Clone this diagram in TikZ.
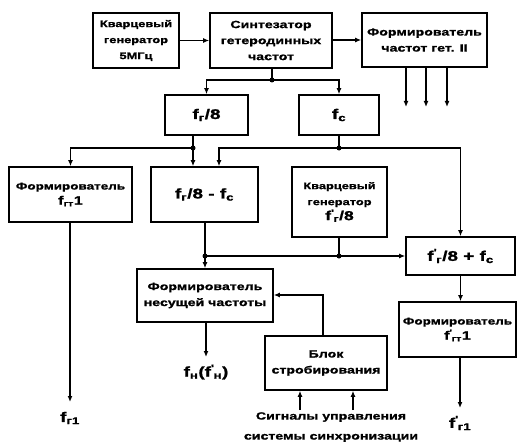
\documentclass[tikz,border=0pt]{standalone}
\usepackage{fontspec}
\setmainfont{Liberation Sans}
\newfontfamily\wf[FakeStretch=1.35, FakeBold=1.2]{Liberation Sans}
\usetikzlibrary{arrows.meta}
\newcommand\fps[2]{f\textsuperscript{'}\kern-1pt\textsubscript{#2}}
\begin{document}
\begin{tikzpicture}[x=1pt,y=-1pt,
 box/.style={draw, line width=1.6pt, align=center, inner sep=1pt, font=\wf\bfseries\fontsize{10.5}{16}\selectfont},
 small/.style={font=\wf\bfseries\fontsize{9.5}{16}\selectfont},
 mid/.style={font=\wf\bfseries\fontsize{10}{16}\selectfont},
 big/.style={font=\wf\bfseries\fontsize{14}{16}\selectfont},
 ln/.style={line width=1.6pt},
 ar/.style={line width=1.6pt, -{Latex[length=6pt,width=5pt]}},
 dot/.style={circle, fill, inner sep=0pt, minimum size=5pt},
 lbl/.style={font=\wf\bfseries\fontsize{14}{16}\selectfont, inner sep=0pt},
]
\useasboundingbox (0,0) rectangle (517,444);
% boxes
\node[box, small, minimum width=86pt, minimum height=55pt] (q5) at (136,40.5) {Кварцевый\\генератор\\5МГц};
\node[box, minimum width=122pt, minimum height=55pt] (syn) at (271,40.5) {Синтезатор\\гетеродинных\\частот};
\node[box, minimum width=125pt, minimum height=54pt] (fgt) at (424.5,40) {Формирователь\\частот гет. II};
\node[box, big, minimum width=83pt, minimum height=40pt] (fg8) at (206.5,115) {f\textsubscript{г}/8};
\node[box, big, minimum width=80pt, minimum height=40pt] (fc) at (339,115) {f\textsubscript{с}};
\node[box, mid, minimum width=123pt, minimum height=55pt] (fgp) at (70.5,194.5) {Формирователь\\[-1pt]{\fontsize{12}{14}\selectfont f\textsubscript{гт}1}};
\node[box, big, minimum width=107pt, minimum height=55pt] (fminus) at (204.5,194.5) {f\textsubscript{г}/8 - f\textsubscript{с}};
\node[box, small, minimum width=95pt, minimum height=70pt] (q2) at (339.5,202) {Кварцевый\\генератор\\[-1pt]{\fontsize{13}{14}\selectfont \fps{'}{г}/8}};
\node[box, big, minimum width=109pt, minimum height=38pt] (fplus) at (460.5,256) {\fps{'}{г}/8 + f\textsubscript{с}};
\node[box, minimum width=136pt, minimum height=53pt] (fnes) at (205,295.5) {Формирователь\\несущей частоты};
\node[box, mid, minimum width=117pt, minimum height=55pt] (fgp2) at (457.5,329.5) {Формирователь\\[-1pt]{\fontsize{12}{14}\selectfont \fps{'}{гт}1}};
\node[box, minimum width=122pt, minimum height=54pt] (strob) at (326,363) {Блок\\стробирования};
% labels
\node[lbl] (og1) at (70,418) {f\textsubscript{г1}};
\node[lbl] (og2) at (460,423) {\fps{'}{г1}};
\node[lbl] (on) at (206,372) {f\textsubscript{н}(\fps{'}{н})};
\node[font=\wf\bfseries\fontsize{10.5}{20}\selectfont, align=center, inner sep=0pt] (sig) at (331,427) {Сигналы управления\\системы синхронизации};
% coordinates
\coordinate (j1) at (272,80);
\coordinate (j2) at (193,148);
\coordinate (j3) at (339,148);
\coordinate (j4) at (339,256);
\coordinate (j5) at (205,256);
\coordinate (xa) at (219,0);
\coordinate (sa) at (323,295);
\coordinate (o1) at (70,402);
\coordinate (o2) at (460,408);
\coordinate (o3) at (206,357);
\coordinate (i1) at (300,410);
\coordinate (i2) at (353,410);
\coordinate (g1) at (406,107);
\coordinate (g2) at (426,107);
\coordinate (g3) at (447,107);
% connectors
\draw[ar] (q5.east) -- (q5.east -| syn.west);
\draw[ar] (syn.east |- fgt.west) -- (fgt.west);
\draw[ln] (syn.south -| j1) -- (j1);
\draw[ar] (j1) -| (fg8.north);
\draw[ar] (j1) -| (fc.north);
\draw[ln] (j2 |- fg8.south) -- (j2);
\draw[ar] (j2) -| (fgp.north);
\draw[ar] (j2) -- (j2 |- fminus.north);
\draw[ln] (fc.south) -- (j3);
\draw[ar] (j3) -| (xa |- fminus.north);
\draw[ar] (j3) -| (fplus.north);
\draw[ln] (q2.south -| j4) -- (j4);
\draw[ln] (j5 |- fminus.south) -- (j5);
\draw[ar] (j5) -- (j5 |- fnes.north);
\draw[ar] (j5) -- (fplus.west |- j5);
\draw[ar] (fplus.south) -- (fplus.south |- fgp2.north);
\draw[ar] (fgp2.south -| o2) -- (o2);
\draw[ar] (fgp.south -| o1) -- (o1);
\draw[ar] (fnes.south -| o3) -- (o3);
\draw[ar] (strob.north -| sa) -- (sa) -- (fnes.east |- sa);
\draw[ar] (i1) -- (i1 |- strob.south);
\draw[ar] (i2) -- (i2 |- strob.south);
\draw[ar] (g1 |- fgt.south) -- (g1);
\draw[ar] (g2 |- fgt.south) -- (g2);
\draw[ar] (g3 |- fgt.south) -- (g3);
\foreach \p in {j1,j2,j3,j4,j5} \node[dot] at (\p) {};
\end{tikzpicture}
\end{document}
